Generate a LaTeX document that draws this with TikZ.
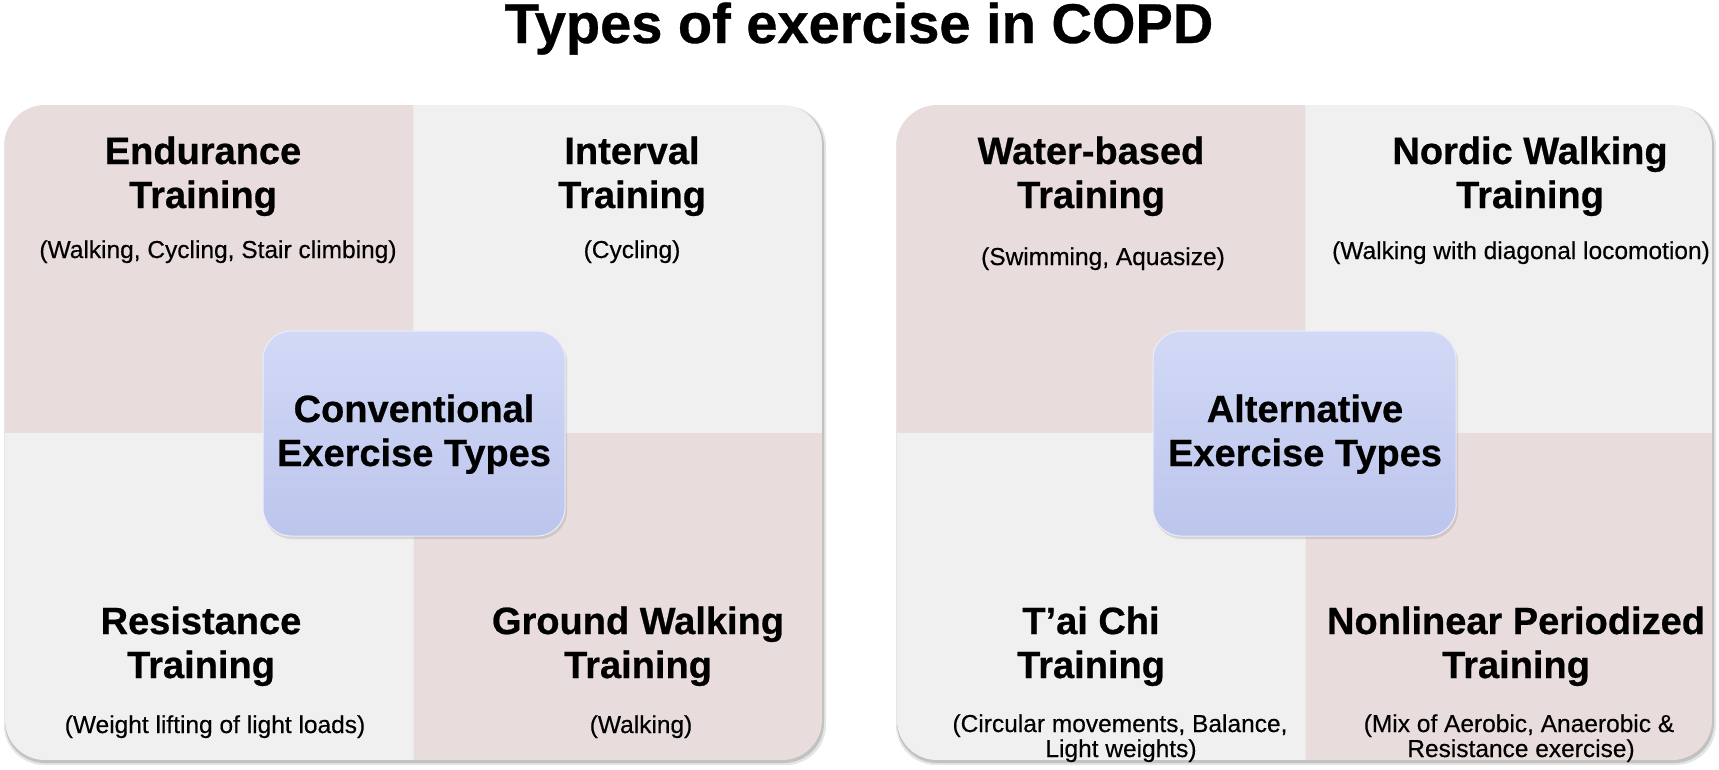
\documentclass[tikz,border=0pt]{standalone}
\usepackage{fontspec}
\setmainfont{Liberation Sans}
\newfontfamily\headfam{Liberation Sans Bold}[FakeBold=0.6]
\newfontfamily\subfam{Liberation Sans}[FakeBold=0.4]
\definecolor{pinkq}{HTML}{E9DCDC}
\definecolor{grayq}{HTML}{F1F0F0}
\definecolor{boxtop}{HTML}{D2D9F7}
\definecolor{boxbot}{HTML}{BCC5EC}
\tikzset{
  ttl/.style={font=\fontsize{56}{60}\selectfont\headfam, anchor=base, inner sep=0pt},
  head/.style={font=\fontsize{38}{44}\selectfont\headfam, anchor=base, inner sep=0pt},
  sub/.style={font=\fontsize{24.5}{28}\selectfont\subfam, anchor=base, inner sep=0pt},
  panelshadow/.style={fill=black, rounded corners=40pt},
  centerbox/.style={rounded corners=28pt, top color=boxtop, bottom color=boxbot, draw=white!70!boxbot, line width=1pt}
}
\begin{document}
\begin{tikzpicture}[x=1pt,y=-1pt]
\useasboundingbox[fill=white] (0,0) rectangle (1719,769);
% title
\node[ttl] (title) at (859,43) {Types of exercise in COPD};

% ---------- left panel ----------
\fill[panelshadow, opacity=0.10] (4,106) rectangle (826,765);
\fill[panelshadow, opacity=0.15] (5,106) rectangle (824,763);
\begin{scope}
\clip[rounded corners=40pt] (5,105) rectangle (822,760);
\fill[pinkq] (5,105) rectangle (413,433);
\fill[grayq] (413,105) rectangle (822,433);
\fill[grayq] (5,433) rectangle (413,760);
\fill[pinkq] (413,433) rectangle (822,760);
\draw[black!8, line width=1pt] (413,105) -- (413,760);
\end{scope}

\node[head] (l1a) at (203,164) {Endurance};
\node[head] (l1b) at (203,208) {Training};
\node[sub]  (l1s) at (218,258) {(Walking, Cycling, Stair climbing)};

\node[head] (l2a) at (632,164) {Interval};
\node[head] (l2b) at (632,208) {Training};
\node[sub]  (l2s) at (632,258) {(Cycling)};

\node[head] (l3a) at (201,634) {Resistance};
\node[head] (l3b) at (201,678) {Training};
\node[sub]  (l3s) at (215,733) {(Weight lifting of light loads)};

\node[head] (l4a) at (638,634) {Ground Walking};
\node[head] (l4b) at (638,678) {Training};
\node[sub]  (l4s) at (641,733) {(Walking)};

\fill[black, opacity=0.10, rounded corners=28pt] (264,334) rectangle (567,539);
\shade[centerbox] (263,331) rectangle (565,536);
\node[head] (lca) at (414,422) {Conventional};
\node[head] (lcb) at (414,466) {Exercise Types};

% ---------- right panel ----------
\fill[panelshadow, opacity=0.10] (896,106) rectangle (1716,765);
\fill[panelshadow, opacity=0.15] (897,106) rectangle (1714,763);
\begin{scope}
\clip[rounded corners=40pt] (897,105) rectangle (1712,760);
\fill[pinkq] (897,105) rectangle (1305,433);
\fill[grayq] (1305,105) rectangle (1712,433);
\fill[grayq] (897,433) rectangle (1305,760);
\fill[pinkq] (1305,433) rectangle (1712,760);
\draw[black!8, line width=1pt] (1305,105) -- (1305,760);
\end{scope}

\node[head] (r1a) at (1091,164) {Water-based};
\node[head] (r1b) at (1091,208) {Training};
\node[sub]  (r1s) at (1103,265) {(Swimming, Aquasize)};

\node[head] (r2a) at (1530,164) {Nordic Walking};
\node[head] (r2b) at (1530,208) {Training};
\node[sub]  (r2s) at (1521,259) {(Walking with diagonal locomotion)};

\node[head] (r3a) at (1091,634) {T’ai Chi};
\node[head] (r3b) at (1091,678) {Training};
\node[sub]  (r3s) at (1120,732) {(Circular movements, Balance,};
\node[sub]  (r3t) at (1121,757) {Light weights)};

\node[head] (r4a) at (1516,634) {Nonlinear Periodized};
\node[head] (r4b) at (1516,678) {Training};
\node[sub]  (r4s) at (1519,732) {(Mix of Aerobic, Anaerobic \&};
\node[sub]  (r4t) at (1521,757) {Resistance exercise)};

\fill[black, opacity=0.10, rounded corners=28pt] (1154,334) rectangle (1458,539);
\shade[centerbox] (1153,331) rectangle (1456,536);
\node[head] (rca) at (1305,422) {Alternative};
\node[head] (rcb) at (1305,466) {Exercise Types};
\end{tikzpicture}
\end{document}
